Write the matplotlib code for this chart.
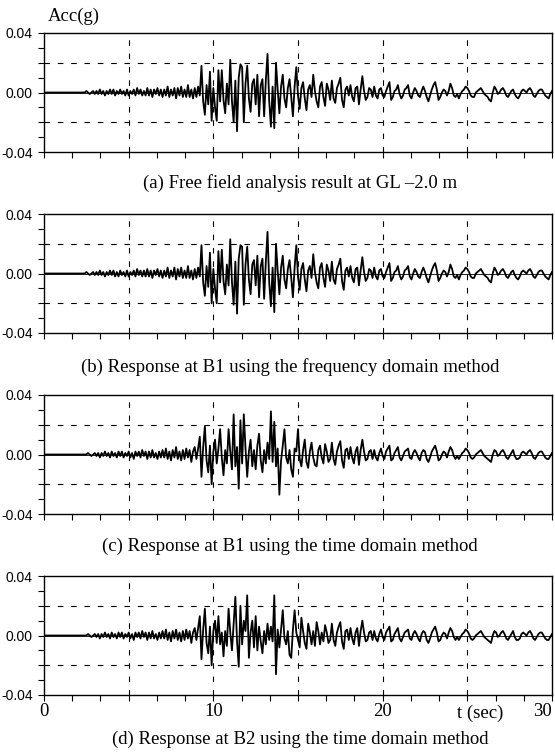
import matplotlib.pyplot as plt
from matplotlib.ticker import MultipleLocator
import numpy as np

# 四个测点的加速度时程（从扫描图上读出的近似值）
plt.rcParams['font.family'] = ['Liberation Serif', 'DejaVu Serif']

dt = 0.1  # 读数的时间间隔 (s)

# 单位 1/1000 g，每行一秒
acc_a = [
    0, 0, 0, 0, 0, 0, 0, 0, 0, 0,
    0, 0, 0, 0, 0, 0, 0, 0, 0, 0,
    0, 0, 0, 0, 0, 1, 0, -1, 0, 1,
    -1, 1, -1, 2, -1, 1, -2, 1, -1, 2,
    -1, 2, -2, 1, -1, 2, -1, 1, -2, 2,
    -2, 1, -1, 2, -2, 3, -1, 2, -2, 1,
    -2, 3, -2, 2, -3, 2, -1, 3, -2, 2,
    -3, 2, -2, 4, -3, 2, -2, 3, -4, 3,
    -2, 4, -3, 2, -3, 5, -3, 2, -4, 3,
    -3, 4, -2, 18, -6, -15, 5, -8, 14, -19,
    3, -10, -19, 15, -6, 15, -5, -14, 6, -8,
    22, -6, -20, 8, -26, 10, 19, 17, -20, 6,
    18, -4, -13, 6, 9, -8, 12, -16, 5, 9,
    -16, 8, 26, -6, -23, 4, -24, 20, 2, -14,
    4, 12, -4, -10, 3, 9, -3, -16, 4, 17,
    -2, -11, 3, 7, -4, -12, 2, 5, -3, 12,
    1, -6, -10, 4, 7, -3, -9, 6, 2, -5,
    8, -4, -7, 3, 6, 10, -5, -10, 2, 4,
    -2, 5, -3, -6, 3, 4, -8, 2, 11, 1,
    -5, -3, 3, 2, -3, 4, -2, -4, 2, 3,
    -2, -3, 1, 4, 7, -5, -3, 1, 2, 5,
    -1, -4, -2, 2, 3, 5, -2, -4, 0, 3,
    1, -2, -3, 1, 4, 1, -3, -6, -2, 2,
    5, 7, 2, -5, -3, 0, 2, 1, -2, 1,
    6, 3, -2, -3, -1, -4, -1, 1, 2, 4,
    3, 1, -2, -3, -3, 0, 1, 2, 3, 1,
    -1, -2, -3, -5, -6, 0, 4, 2, -1, 0,
    2, 3, 1, -2, -3, -1, 1, 2, -1, -3,
    -4, -2, 1, 2, 1, 0, 2, 3, 1, -2,
    -3, -1, 1, 2, 2, 0, -2, -3, -4, -1,
    1]

acc_b = [
    0, 0, 0, 0, 0, 0, 0, 0, 0, 0,
    0, 0, 0, 0, 0, 0, 0, 0, 0, 0,
    0, 0, 0, 0, 0, 1, 0, -1, 0, 1,
    -1, 1, -1, 2, -1, 1, -2, 1, -1, 2,
    -1, 2, -2, 1, -2, 2, -1, 1, -2, 2,
    -2, 1, -1, 2, -2, 3, -1, 2, -2, 2,
    -2, 3, -2, 2, -3, 2, -1, 3, -2, 2,
    -3, 2, -2, 4, -3, 2, -2, 4, -4, 3,
    -2, 4, -3, 2, -3, 5, -3, 2, -4, 3,
    -3, 4, -2, 19, -6, -15, 5, -9, 14, -20,
    3, -10, -20, 15, -6, 16, -5, -14, 6, -8,
    23, -6, -21, 8, -27, 10, 19, 18, -21, 6,
    18, -4, -14, 6, 9, -8, 12, -16, 5, 10,
    -17, 8, 28, -6, -22, 4, -26, 20, 2, -14,
    4, 12, -4, -10, 3, 9, -3, -16, 4, 19,
    -2, -11, 3, 7, -4, -12, 2, 5, -3, 13,
    1, -6, -10, 4, 7, -3, -9, 6, 2, -5,
    8, -4, -7, 3, 6, 10, -5, -11, 2, 4,
    -2, 5, -3, -6, 3, 4, -8, 2, 11, 1,
    -5, -3, 3, 2, -3, 4, -2, -4, 2, 3,
    -2, -3, 1, 4, 7, -5, -3, 1, 2, 5,
    -1, -4, -2, 2, 3, 5, -2, -4, 0, 3,
    1, -2, -3, 1, 4, 1, -3, -6, -2, 2,
    5, 7, 2, -5, -3, 0, 2, 1, -2, 1,
    6, 3, -2, -3, -1, -4, -1, 1, 2, 4,
    3, 1, -2, -3, -3, 0, 1, 2, 3, 1,
    -1, -2, -3, -5, -6, 0, 4, 2, -1, 0,
    2, 3, 1, -2, -3, -1, 1, 2, -1, -3,
    -4, -2, 1, 2, 1, 0, 2, 3, 1, -2,
    -3, -1, 1, 2, 2, 0, -2, -3, -4, -1,
    1]

acc_c = [
    0, 0, 0, 0, 0, 0, 0, 0, 0, 0,
    0, 0, 0, 0, 0, 0, 0, 0, 0, 0,
    0, 0, 0, 0, 0, 0, 1, 0, -1, 0,
    1, -1, 1, -2, 1, -1, 2, -1, 1, -2,
    2, -1, 1, -2, 2, -1, 2, -2, 1, -1,
    2, -2, 1, -3, 2, -1, 2, -2, 3, -1,
    2, -3, 2, -2, 3, -2, 1, -3, 2, -2,
    3, -2, 4, -3, 2, -4, 3, -2, 5, -3,
    2, -4, 3, -3, 4, -2, 3, -5, 2, 5,
    -3, 4, 12, -15, 5, 19, -4, -12, 6, -20,
    2, 10, -6, 4, 17, -2, -14, 3, -6, 17,
    2, -10, 27, -8, 5, -23, 23, -6, 27, 4,
    -15, 2, 10, -8, 3, -10, 6, 14, -4, -12,
    3, -6, 8, -3, 29, -5, 22, -8, 4, -27,
    -4, 6, 17, -2, -6, 3, -10, -15, 4, 2,
    17, -3, -8, 3, 10, -5, -9, 2, 8, -2,
    -7, -8, 3, 6, -2, -6, 7, 2, -5, -3,
    8, -3, -7, 2, 6, 9, -4, -9, 3, 4,
    -3, 5, -2, -6, 2, 5, -7, 3, 10, 2,
    -4, -3, 2, 3, -3, 3, -2, -4, 1, 4,
    -1, -3, 2, 4, 6, -4, -3, 1, 3, 5,
    -2, -4, -1, 2, 3, 4, -2, -3, 1, 3,
    1, -2, -4, 1, 3, 2, -3, -5, -2, 2,
    4, 6, 2, -4, -3, 0, 2, 1, -2, 2,
    5, 3, -1, -3, -1, -3, -1, 1, 2, 4,
    3, 1, -2, -3, -2, 0, 1, 2, 3, 1,
    -1, -2, -3, -4, -5, 0, 3, 2, -1, 0,
    2, 3, 1, -2, -3, -1, 1, 3, -1, -3,
    -3, -2, 1, 2, 1, 0, 2, 3, 1, -2,
    -3, -1, 1, 2, 2, 0, -2, -3, -3, -1,
    1]

acc_d = [
    0, 0, 0, 0, 0, 0, 0, 0, 0, 0,
    0, 0, 0, 0, 0, 0, 0, 0, 0, 0,
    0, 0, 0, 0, 0, 0, 1, 0, -1, 0,
    1, -1, 1, -2, 1, -1, 2, -1, 1, -2,
    2, -1, 1, -2, 2, -1, 2, -2, 1, -1,
    2, -2, 1, -3, 2, -1, 2, -2, 3, -1,
    2, -3, 2, -2, 3, -2, 1, -3, 2, -2,
    3, -2, 4, -3, 2, -4, 3, -2, 4, -3,
    2, -4, 3, -3, 4, -2, 3, -5, 2, 5,
    -3, 5, 13, -16, 4, 18, -5, -12, 6, -20,
    3, 10, -5, 13, -6, 2, -14, 3, -7, 18,
    2, -10, 8, 26, -4, -21, 20, -6, 10, 3,
    27, -15, 2, 10, -8, 13, -10, 6, -4, -12,
    3, -6, 8, -3, 6, -4, 27, -26, 4, -8,
    4, 17, -2, -6, 3, -13, -15, 4, 17, 2,
    -3, -8, 12, 3, -5, -9, 8, 2, -6, 3,
    -7, 9, 3, -6, 2, -4, 7, 2, -5, -3,
    8, -3, -7, 2, 6, 9, -4, -9, 3, 4,
    -3, 5, -2, -6, 2, 5, -7, 3, 10, 2,
    -4, -3, 2, 3, -3, 3, -2, -4, 1, 4,
    -1, -3, 2, 4, 6, -4, -3, 1, 3, 5,
    -2, -4, -1, 2, 3, 4, -2, -3, 1, 3,
    1, -2, -4, 1, 3, 2, -3, -5, -2, 2,
    4, 6, 2, -4, -3, 0, 2, 1, -2, 2,
    5, 3, -1, -3, -1, -3, -1, 1, 2, 4,
    3, 1, -2, -3, -2, 0, 1, 2, 3, 1,
    -1, -2, -3, -4, -5, 0, 3, 2, -1, 0,
    2, 3, 1, -2, -3, -1, 1, 3, -1, -3,
    -3, -2, 1, 2, 1, 0, 2, 3, 1, -2,
    -3, -1, 1, 2, 2, 0, -2, -3, -3, -1,
    1]

captions = ['(a) Free field analysis result at GL \u20132.0 m',
            '(b) Response at B1 using the frequency domain method',
            '(c) Response at B1 using the time domain method',
            '(d) Response at B2 using the time domain method']
ytick_vals = [0.04, 0.0, -0.04]
ytick_labels = ['0.04', '0.00', '-0.04']
xtick_vals = [0, 10, 20, 30]
xtick_labels = ['0', '10', '20', '30']
grid_t = [5, 10, 15, 20, 25]
grid_acc = [0.02, -0.02]

records = [acc_a, acc_b, acc_c, acc_d]

W, H = 555, 754
fig = plt.figure(figsize=(W / 100, H / 100), dpi=100)
fig.patch.set_facecolor('white')

tops = [33, 214, 395, 576]   # 各子图上边缘 (px)
cap_x = [300, 290, 290, 300]
cap_y = [183, 367, 546, 739]
ax_h = 119

for i, acc in enumerate(records):
    ax = fig.add_axes([44 / W, 1 - (tops[i] + ax_h) / H, (552 - 44) / W, ax_h / H])
    t = np.arange(len(acc)) * dt
    ax.plot(t, np.array(acc) / 1000.0, color='black', lw=1.3)
    ax.axhline(0, color='black', lw=0.6)
    for g in grid_t:
        ax.axvline(g, color='black', lw=0.8, dashes=(5, 7))
    for g in grid_acc:
        ax.axhline(g, color='black', lw=0.8, dashes=(5, 7))
    ax.set_xlim(0, 30)
    ax.set_ylim(-0.04, 0.04)

    ax.set_yticks(ytick_vals, ytick_labels, fontfamily='Liberation Sans', fontsize=10)
    ax.yaxis.set_minor_locator(MultipleLocator(0.01))
    ax.xaxis.set_minor_locator(MultipleLocator(5 / 3))
    ax.tick_params(axis='both', which='both', direction='out', length=4, width=0.8,
                   color='black')
    ax.tick_params(axis='y', pad=4)
    if i == 3:
        ax.set_xticks(xtick_vals, xtick_labels, fontsize=13.5)
        ax.get_xticklabels()[-1].set_horizontalalignment('right')
        ax.tick_params(axis='x', pad=2)
    else:
        ax.set_xticks(xtick_vals, [])
    for sp in ax.spines.values():
        sp.set_linewidth(1.0)

    fig.text(cap_x[i] / W, 1 - cap_y[i] / H, captions[i], ha='center', va='center',
             fontsize=13.5)

fig.text(48 / W, 1 - 16 / H, 'Acc(g)', ha='left', va='center', fontsize=13.5)
fig.text(480 / W, 1 - 713 / H, 't (sec)', ha='center', va='center', fontsize=13.5)

fig.savefig('out.png', dpi=100)
